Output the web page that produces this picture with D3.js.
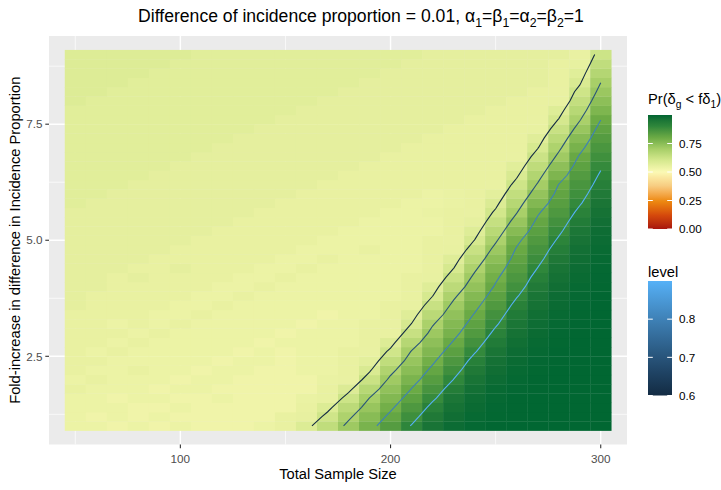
<!DOCTYPE html>
<html>
<head>
<meta charset="utf-8">
<script src="https://cdn.jsdelivr.net/npm/d3@7"></script>
<style>
  body { margin: 0; background: #fff; }
  text { font-family: "Liberation Sans", Arial, sans-serif; }
</style>
</head>
<body>
<div id="chart"></div>
<script>
// Total sample size (tile centres) and fold-increase (tile centres)
const sampleSizes = [50, 60, 70, 80, 90, 100, 110, 120, 130, 140, 150, 160, 170,
  180, 190, 200, 210, 220, 230, 240, 250, 260, 270, 280, 290, 300];
const foldIncrease = [1.0, 1.2, 1.4, 1.6, 1.8, 2.0, 2.2, 2.4, 2.6, 2.8, 3.0, 3.2, 3.4,
  3.6, 3.8, 4.0, 4.2, 4.4, 4.6, 4.8, 5.0, 5.2, 5.4, 5.6, 5.8, 6.0, 6.2, 6.4, 6.6, 6.8,
  7.0, 7.2, 7.4, 7.6, 7.8, 8.0, 8.2, 8.4, 8.6, 8.8, 9.0];

// Pr(delta_g < f delta_1), one row per fold-increase value (bottom row first)
const prob = [
  [0.54,0.54,0.53,0.54,0.53,0.54,0.53,0.53,0.53,0.54,0.55,0.583,0.648,0.716,0.778,0.841,0.904,0.958,0.982,0.992,0.996,0.998,0.998,0.998,0.998,0.998],
  [0.54,0.53,0.54,0.53,0.54,0.53,0.53,0.53,0.53,0.53,0.55,0.555,0.616,0.688,0.753,0.815,0.878,0.941,0.974,0.989,0.995,0.997,0.998,0.998,0.998,0.998],
  [0.54,0.54,0.54,0.53,0.53,0.54,0.53,0.53,0.53,0.53,0.53,0.55,0.584,0.656,0.727,0.789,0.852,0.917,0.964,0.984,0.993,0.997,0.998,0.998,0.998,0.998],
  [0.54,0.54,0.53,0.54,0.54,0.53,0.53,0.54,0.53,0.53,0.53,0.545,0.552,0.621,0.701,0.764,0.826,0.889,0.950,0.978,0.990,0.996,0.998,0.998,0.998,0.998],
  [0.55,0.54,0.54,0.54,0.53,0.54,0.54,0.53,0.53,0.53,0.53,0.53,0.55,0.585,0.667,0.738,0.801,0.863,0.929,0.969,0.987,0.994,0.997,0.998,0.998,0.998],
  [0.54,0.55,0.54,0.54,0.54,0.53,0.54,0.54,0.53,0.53,0.53,0.53,0.545,0.549,0.627,0.713,0.775,0.838,0.901,0.957,0.981,0.992,0.996,0.998,0.998,0.998],
  [0.55,0.54,0.54,0.55,0.54,0.54,0.53,0.54,0.54,0.53,0.53,0.54,0.54,0.55,0.593,0.683,0.751,0.814,0.877,0.941,0.974,0.989,0.995,0.998,0.998,0.998],
  [0.55,0.55,0.54,0.54,0.54,0.54,0.54,0.53,0.54,0.54,0.53,0.54,0.54,0.55,0.564,0.648,0.728,0.790,0.854,0.921,0.966,0.985,0.993,0.997,0.998,0.998],
  [0.55,0.54,0.55,0.54,0.54,0.54,0.54,0.54,0.53,0.54,0.53,0.54,0.54,0.55,0.548,0.612,0.704,0.766,0.830,0.895,0.954,0.980,0.991,0.996,0.998,0.998],
  [0.55,0.55,0.54,0.55,0.54,0.54,0.54,0.54,0.54,0.53,0.54,0.54,0.54,0.54,0.55,0.580,0.670,0.743,0.805,0.871,0.937,0.973,0.988,0.995,0.998,0.998],
  [0.55,0.55,0.55,0.54,0.55,0.54,0.54,0.54,0.54,0.54,0.53,0.54,0.54,0.54,0.55,0.550,0.633,0.719,0.781,0.847,0.915,0.963,0.984,0.993,0.997,0.998],
  [0.55,0.55,0.54,0.55,0.54,0.55,0.54,0.54,0.54,0.54,0.54,0.53,0.54,0.54,0.55,0.548,0.601,0.694,0.760,0.825,0.892,0.952,0.979,0.991,0.996,0.998],
  [0.55,0.55,0.55,0.55,0.54,0.54,0.55,0.54,0.54,0.54,0.54,0.54,0.53,0.54,0.54,0.55,0.576,0.661,0.738,0.804,0.871,0.937,0.973,0.988,0.995,0.998],
  [0.56,0.55,0.55,0.55,0.55,0.54,0.54,0.55,0.54,0.54,0.54,0.54,0.54,0.54,0.54,0.55,0.552,0.630,0.715,0.782,0.849,0.918,0.964,0.984,0.993,0.997],
  [0.56,0.55,0.55,0.55,0.55,0.55,0.54,0.54,0.55,0.54,0.54,0.54,0.54,0.54,0.54,0.54,0.55,0.599,0.688,0.760,0.828,0.895,0.954,0.980,0.991,0.996],
  [0.56,0.56,0.55,0.55,0.55,0.55,0.55,0.54,0.54,0.55,0.54,0.54,0.54,0.54,0.54,0.54,0.55,0.576,0.657,0.736,0.807,0.873,0.939,0.974,0.989,0.995],
  [0.56,0.56,0.55,0.56,0.55,0.55,0.55,0.55,0.54,0.54,0.55,0.54,0.54,0.54,0.54,0.54,0.55,0.552,0.628,0.714,0.789,0.855,0.922,0.966,0.985,0.994],
  [0.56,0.56,0.56,0.55,0.55,0.56,0.55,0.55,0.55,0.54,0.54,0.55,0.54,0.54,0.54,0.54,0.54,0.55,0.599,0.688,0.768,0.838,0.901,0.957,0.981,0.992],
  [0.56,0.56,0.56,0.56,0.55,0.55,0.55,0.55,0.55,0.55,0.54,0.54,0.55,0.54,0.54,0.54,0.54,0.55,0.576,0.659,0.745,0.821,0.882,0.944,0.976,0.989],
  [0.56,0.56,0.56,0.56,0.56,0.55,0.55,0.55,0.55,0.55,0.55,0.54,0.54,0.54,0.55,0.54,0.54,0.55,0.552,0.630,0.720,0.806,0.865,0.928,0.969,0.986],
  [0.56,0.56,0.56,0.56,0.56,0.56,0.55,0.55,0.55,0.55,0.55,0.55,0.54,0.54,0.54,0.54,0.54,0.55,0.548,0.601,0.691,0.786,0.849,0.908,0.960,0.982],
  [0.56,0.56,0.56,0.56,0.56,0.56,0.56,0.55,0.55,0.55,0.55,0.55,0.55,0.54,0.54,0.54,0.54,0.54,0.55,0.578,0.663,0.756,0.831,0.889,0.949,0.978],
  [0.56,0.56,0.56,0.56,0.56,0.56,0.56,0.56,0.55,0.55,0.55,0.55,0.55,0.55,0.54,0.54,0.54,0.54,0.55,0.557,0.636,0.727,0.813,0.871,0.934,0.971],
  [0.56,0.56,0.56,0.56,0.56,0.56,0.56,0.56,0.56,0.55,0.55,0.55,0.55,0.55,0.55,0.54,0.54,0.545,0.55,0.548,0.609,0.697,0.792,0.853,0.915,0.963],
  [0.57,0.56,0.56,0.56,0.56,0.56,0.56,0.56,0.56,0.56,0.55,0.55,0.55,0.55,0.55,0.55,0.54,0.54,0.545,0.55,0.586,0.670,0.763,0.836,0.894,0.953],
  [0.57,0.57,0.56,0.56,0.56,0.56,0.56,0.56,0.56,0.56,0.56,0.55,0.55,0.55,0.55,0.55,0.55,0.54,0.545,0.55,0.565,0.643,0.733,0.818,0.876,0.939],
  [0.57,0.57,0.57,0.56,0.56,0.56,0.56,0.56,0.56,0.56,0.56,0.56,0.55,0.55,0.55,0.55,0.55,0.55,0.55,0.55,0.548,0.617,0.705,0.801,0.860,0.923],
  [0.57,0.57,0.57,0.57,0.56,0.56,0.56,0.56,0.56,0.56,0.56,0.56,0.56,0.55,0.55,0.55,0.55,0.55,0.55,0.55,0.55,0.592,0.678,0.771,0.844,0.908],
  [0.57,0.57,0.57,0.57,0.57,0.56,0.56,0.56,0.56,0.56,0.56,0.56,0.56,0.56,0.55,0.55,0.55,0.55,0.55,0.55,0.55,0.569,0.651,0.743,0.826,0.892],
  [0.57,0.57,0.57,0.57,0.57,0.57,0.56,0.56,0.56,0.56,0.56,0.56,0.56,0.56,0.56,0.55,0.55,0.55,0.55,0.55,0.55,0.549,0.623,0.714,0.807,0.876],
  [0.57,0.57,0.57,0.57,0.57,0.57,0.57,0.56,0.56,0.56,0.56,0.56,0.56,0.56,0.56,0.56,0.55,0.55,0.55,0.55,0.55,0.55,0.596,0.686,0.781,0.859],
  [0.57,0.57,0.57,0.57,0.57,0.57,0.57,0.57,0.56,0.56,0.56,0.56,0.56,0.56,0.56,0.56,0.56,0.55,0.55,0.55,0.55,0.55,0.574,0.659,0.755,0.841],
  [0.57,0.57,0.57,0.57,0.57,0.57,0.57,0.57,0.57,0.56,0.56,0.56,0.56,0.56,0.56,0.56,0.56,0.56,0.55,0.55,0.55,0.55,0.551,0.631,0.726,0.822],
  [0.57,0.57,0.57,0.57,0.57,0.57,0.57,0.57,0.57,0.57,0.56,0.56,0.56,0.56,0.56,0.56,0.56,0.56,0.56,0.55,0.55,0.55,0.548,0.602,0.695,0.799],
  [0.57,0.57,0.57,0.57,0.57,0.57,0.57,0.57,0.57,0.57,0.57,0.56,0.56,0.56,0.56,0.56,0.56,0.56,0.56,0.56,0.55,0.55,0.55,0.578,0.667,0.770],
  [0.58,0.57,0.57,0.57,0.57,0.57,0.57,0.57,0.57,0.57,0.57,0.57,0.56,0.56,0.56,0.56,0.56,0.56,0.56,0.56,0.56,0.55,0.55,0.552,0.642,0.745],
  [0.58,0.58,0.57,0.57,0.57,0.57,0.57,0.57,0.57,0.57,0.57,0.57,0.57,0.56,0.56,0.56,0.56,0.56,0.56,0.56,0.56,0.56,0.55,0.548,0.617,0.722],
  [0.58,0.58,0.58,0.57,0.57,0.57,0.57,0.57,0.57,0.57,0.57,0.57,0.57,0.57,0.56,0.56,0.56,0.56,0.56,0.56,0.56,0.56,0.56,0.55,0.593,0.699],
  [0.58,0.58,0.58,0.58,0.57,0.57,0.57,0.57,0.57,0.57,0.57,0.57,0.57,0.57,0.57,0.56,0.56,0.56,0.56,0.56,0.56,0.56,0.56,0.55,0.572,0.673],
  [0.58,0.58,0.58,0.58,0.58,0.57,0.57,0.57,0.57,0.57,0.57,0.57,0.57,0.57,0.57,0.57,0.56,0.56,0.56,0.56,0.56,0.56,0.56,0.55,0.553,0.647],
  [0.58,0.58,0.58,0.58,0.58,0.58,0.57,0.57,0.57,0.57,0.57,0.57,0.57,0.57,0.57,0.57,0.57,0.56,0.56,0.56,0.56,0.56,0.56,0.56,0.548,0.621]
];

const contourLevels = [0.6, 0.7, 0.8, 0.9];
const xTicks = [100, 200, 300];
const xMinor = [50, 150, 250];
const yTicks = [2.5, 5.0, 7.5];
const yMinor = [1.25, 3.75, 6.25, 8.75];
const fillTicks = [0, 0.25, 0.5, 0.75];
const levelTicks = [0.6, 0.7, 0.8];

const width = 721, height = 490;
const panel = { left: 49, right: 627, top: 36, bottom: 444.5 };

const svg = d3.select("#chart").append("svg")
    .attr("width", width)
    .attr("height", height);

// scales (ggplot adds 5% either side of the data range)
const x = d3.scaleLinear().domain([37.5, 312.5]).range([panel.left, panel.right]);
const y = d3.scaleLinear().domain([0.6, 9.4]).range([panel.bottom, panel.top]);

const fill = d3.scaleLinear()
    .domain([0, 0.12, 0.25, 0.38, 0.5, 0.6, 0.7, 0.8, 0.9, 1])
    .range(["#a8140e", "#d5480c", "#ee8c12", "#f7cd82", "#fbf9b4",
            "#d6e98f", "#a8cf68", "#6cab45", "#2f873b", "#006632"])
    .interpolate(d3.interpolateLab)
    .clamp(true);

const levelColor = d3.scaleLinear()
    .domain([0.6, 0.9])
    .range(["#132B43", "#56B1F7"])
    .interpolate(d3.interpolateLab);

// panel background and grid
svg.append("rect")
    .attr("x", panel.left).attr("y", panel.top)
    .attr("width", panel.right - panel.left)
    .attr("height", panel.bottom - panel.top)
    .attr("fill", "#EBEBEB");

const grid = svg.append("g").attr("stroke", "#fff");
grid.selectAll(".xmin").data(xMinor).join("line")
    .attr("x1", d => x(d)).attr("x2", d => x(d))
    .attr("y1", panel.top).attr("y2", panel.bottom)
    .attr("stroke-width", 0.7);
grid.selectAll(".ymin").data(yMinor).join("line")
    .attr("y1", d => y(d)).attr("y2", d => y(d))
    .attr("x1", panel.left).attr("x2", panel.right)
    .attr("stroke-width", 0.7);
grid.selectAll(".xmaj").data(xTicks).join("line")
    .attr("x1", d => x(d)).attr("x2", d => x(d))
    .attr("y1", panel.top).attr("y2", panel.bottom)
    .attr("stroke-width", 1.4);
grid.selectAll(".ymaj").data(yTicks).join("line")
    .attr("y1", d => y(d)).attr("y2", d => y(d))
    .attr("x1", panel.left).attr("x2", panel.right)
    .attr("stroke-width", 1.4);

// tiles
const cells = [];
foldIncrease.forEach((fv, j) => {
    sampleSizes.forEach((sv, i) => cells.push({ s: sv, f: fv, p: prob[j][i] }));
});
const halfW = (sampleSizes[1] - sampleSizes[0]) / 2;
const halfH = (foldIncrease[1] - foldIncrease[0]) / 2;

svg.append("g")
    .selectAll("rect")
    .data(cells)
    .join("rect")
    .attr("x", d => x(d.s - halfW))
    .attr("y", d => y(d.f + halfH))
    .attr("width", d => x(d.s + halfW) - x(d.s - halfW) + 0.3)
    .attr("height", d => y(d.f - halfH) - y(d.f + halfH) + 0.3)
    .attr("fill", d => fill(d.p));

// contour lines from the same grid
const nx = sampleSizes.length, ny = foldIncrease.length;
const gridX = d3.scaleLinear().domain([0.5, nx - 0.5]).range([sampleSizes[0], sampleSizes[nx - 1]]);
const gridY = d3.scaleLinear().domain([0.5, ny - 0.5]).range([foldIncrease[0], foldIncrease[ny - 1]]);
const contours = d3.contours().size([nx, ny]).thresholds(contourLevels)(prob.flat());

// d3 closes the polygons round the grid edge; keep only the interior runs
const onEdge = p => p[0] <= 0 || p[0] >= nx || p[1] <= 0 || p[1] >= ny;
function ringToLines(ring) {
    const pts = ring.slice(0, -1);
    const k0 = pts.findIndex(onEdge);
    if (k0 < 0) return [ring];
    const rot = pts.slice(k0).concat(pts.slice(0, k0));
    const out = [];
    let cur = [];
    rot.forEach(p => {
        if (onEdge(p)) {
            if (cur.length > 1) out.push(cur);
            cur = [];
        } else cur.push(p);
    });
    if (cur.length > 1) out.push(cur);
    return out;
}

const line = d3.line()
    .x(p => x(gridX(p[0])))
    .y(p => y(gridY(p[1])));

const contourLines = [];
contours.forEach(c => {
    c.coordinates.forEach(poly => poly.forEach(ring => {
        ringToLines(ring).forEach(pts => contourLines.push({ level: c.value, pts }));
    }));
});

svg.append("g")
    .selectAll("path")
    .data(contourLines)
    .join("path")
    .attr("d", d => line(d.pts))
    .attr("fill", "none")
    .attr("stroke", d => levelColor(d.level))
    .attr("stroke-width", 1.1);

// axes
const tickLen = 3.7;
svg.append("g").selectAll("line").data(xTicks).join("line")
    .attr("x1", d => x(d)).attr("x2", d => x(d))
    .attr("y1", panel.bottom).attr("y2", panel.bottom + tickLen)
    .attr("stroke", "#333").attr("stroke-width", 1.1);
svg.append("g").selectAll("text").data(xTicks).join("text")
    .attr("x", d => x(d)).attr("y", 463)
    .attr("text-anchor", "middle")
    .attr("fill", "#4D4D4D")
    .style("font-size", "11.7px")
    .text(d => d);

svg.append("g").selectAll("line").data(yTicks).join("line")
    .attr("y1", d => y(d)).attr("y2", d => y(d))
    .attr("x1", panel.left - tickLen).attr("x2", panel.left)
    .attr("stroke", "#333").attr("stroke-width", 1.1);
svg.append("g").selectAll("text").data(yTicks).join("text")
    .attr("x", 42.5).attr("y", d => y(d))
    .attr("dy", "0.36em")
    .attr("text-anchor", "end")
    .attr("fill", "#4D4D4D")
    .style("font-size", "11.7px")
    .text(d => d3.format(".1f")(d));

svg.append("text")
    .attr("x", (panel.left + panel.right) / 2).attr("y", 479)
    .attr("text-anchor", "middle")
    .style("font-size", "14.7px")
    .text("Total Sample Size");

svg.append("text")
    .attr("transform", `translate(20,${(panel.top + panel.bottom) / 2}) rotate(-90)`)
    .attr("text-anchor", "middle")
    .style("font-size", "14.7px")
    .text("Fold-increase in difference in Incidence Proportion");

// plotmath-like text with subscripts
function mathText(sel, parts, size) {
    const shift = size * 0.3;
    let down = false;
    parts.forEach(([str, sub]) => {
        const ts = sel.append("tspan").text(str);
        if (sub) {
            ts.style("font-size", (size * 0.7) + "px");
            if (!down) { ts.attr("dy", shift); down = true; }
        } else {
            ts.style("font-size", size + "px");
            if (down) { ts.attr("dy", -shift); down = false; }
        }
    });
}

const title = svg.append("text")
    .attr("x", 361).attr("y", 22)
    .attr("text-anchor", "middle");
mathText(title, [
    ["Difference of incidence proportion = 0.01, α", false], ["1", true],
    ["=β", false], ["1", true], ["=α", false], ["2", true],
    ["=β", false], ["2", true], ["=1", false]
], 17.6);

// fill legend
const defs = svg.append("defs");
const fillGrad = defs.append("linearGradient").attr("id", "fillGrad")
    .attr("x1", 0).attr("y1", 1).attr("x2", 0).attr("y2", 0);
fillGrad.selectAll("stop").data(d3.range(0, 1.0001, 0.02)).join("stop")
    .attr("offset", d => d)
    .attr("stop-color", d => fill(d));

const levelGrad = defs.append("linearGradient").attr("id", "levelGrad")
    .attr("x1", 0).attr("y1", 1).attr("x2", 0).attr("y2", 0);
levelGrad.selectAll("stop").data(d3.range(0, 1.0001, 0.1)).join("stop")
    .attr("offset", d => d)
    .attr("stop-color", d => levelColor(0.6 + d * 0.3));

const legX = 648, barW = 24;
const fillY = d3.scaleLinear().domain([0, 1]).range([229, 115]);
const levelY = d3.scaleLinear().domain([0.6, 0.9]).range([395.5, 281]);

const fillTitle = svg.append("text").attr("x", legX).attr("y", 104);
mathText(fillTitle, [["Pr(δ", false], ["g", true], [" < fδ", false], ["1", true], [")", false]], 14.7);

svg.append("rect")
    .attr("x", legX).attr("y", fillY(1))
    .attr("width", barW).attr("height", fillY(0) - fillY(1))
    .attr("fill", "url(#fillGrad)");

const fillLeg = svg.append("g");
fillLeg.selectAll(".tl").data(fillTicks).join("line")
    .attr("x1", legX).attr("x2", legX + 4.8)
    .attr("y1", d => fillY(d)).attr("y2", d => fillY(d))
    .attr("stroke", "#fff").attr("stroke-width", 1);
fillLeg.selectAll(".tr").data(fillTicks).join("line")
    .attr("x1", legX + barW - 4.8).attr("x2", legX + barW)
    .attr("y1", d => fillY(d)).attr("y2", d => fillY(d))
    .attr("stroke", "#fff").attr("stroke-width", 1);
fillLeg.selectAll("text").data(fillTicks).join("text")
    .attr("x", 679).attr("y", d => fillY(d))
    .attr("dy", "0.36em")
    .style("font-size", "11.7px")
    .text(d => d3.format(".2f")(d));

// level legend
svg.append("text").attr("x", legX).attr("y", 277)
    .style("font-size", "14.7px")
    .text("level");

svg.append("rect")
    .attr("x", legX).attr("y", levelY(0.9))
    .attr("width", barW).attr("height", levelY(0.6) - levelY(0.9))
    .attr("fill", "url(#levelGrad)");

const levLeg = svg.append("g");
levLeg.selectAll(".tl").data(levelTicks).join("line")
    .attr("x1", legX).attr("x2", legX + 4.8)
    .attr("y1", d => levelY(d)).attr("y2", d => levelY(d))
    .attr("stroke", "#fff").attr("stroke-width", 1);
levLeg.selectAll(".tr").data(levelTicks).join("line")
    .attr("x1", legX + barW - 4.8).attr("x2", legX + barW)
    .attr("y1", d => levelY(d)).attr("y2", d => levelY(d))
    .attr("stroke", "#fff").attr("stroke-width", 1);
levLeg.selectAll("text").data(levelTicks).join("text")
    .attr("x", 679).attr("y", d => levelY(d))
    .attr("dy", "0.36em")
    .style("font-size", "11.7px")
    .text(d => d3.format(".1f")(d));
</script>
</body>
</html>
